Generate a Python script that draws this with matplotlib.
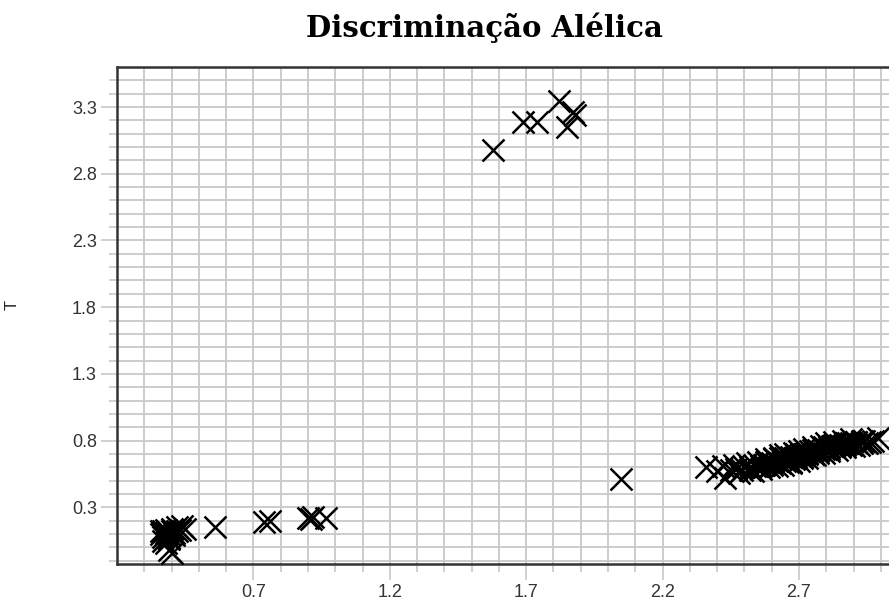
import matplotlib
matplotlib.use("Agg")
import matplotlib.pyplot as plt
from matplotlib.ticker import FixedLocator, NullFormatter

# ---- data ----
low_x = [0.36, 0.37, 0.37, 0.38, 0.38, 0.39, 0.39, 0.40, 0.40, 0.41, 0.42, 0.43,
         0.44, 0.45, 0.39, 0.40, 0.38, 0.37, 0.41, 0.36, 0.38, 0.39, 0.42,
         0.56, 0.74, 0.76, 0.90, 0.91, 0.92, 0.965]
low_y = [0.10, 0.12, 0.08, 0.11, 0.13, 0.10, 0.07, 0.12, 0.14, 0.11, 0.15, 0.13,
         0.16, 0.14, -0.02, -0.04, 0.03, 0.05, 0.09, 0.12, 0.10, 0.06, 0.12,
         0.15, 0.19, 0.20, 0.22, 0.21, 0.23, 0.22]

top_x = [1.58, 1.69, 1.74, 1.82, 1.87, 1.88, 1.85]
top_y = [2.98, 3.19, 3.19, 3.345, 3.26, 3.24, 3.15]

mid_x = [2.046]
mid_y = [0.515]

high_x = [2.36, 2.40, 2.42, 2.43, 2.45, 2.46, 2.48, 2.50, 2.51, 2.52, 2.54, 2.55,
          2.56, 2.57, 2.58, 2.59, 2.60, 2.61, 2.62, 2.62, 2.63, 2.64, 2.64, 2.65,
          2.66, 2.66, 2.67, 2.68, 2.68, 2.69, 2.70, 2.70, 2.71, 2.72, 2.72, 2.73,
          2.74, 2.75, 2.76, 2.77, 2.78, 2.79, 2.80, 2.80, 2.81, 2.82, 2.83, 2.84,
          2.85, 2.86, 2.87, 2.88, 2.89, 2.90, 2.91, 2.92, 2.93, 2.95, 2.97, 2.99,
          2.63, 2.67, 2.71, 2.75, 2.79, 2.83, 2.87, 2.58, 2.53, 2.47,
          2.61, 2.63, 2.65, 2.67, 2.69, 2.71, 2.73, 2.75, 2.77, 2.79, 2.81, 2.83,
          2.85, 2.87, 2.89, 2.91, 2.93, 2.94, 2.96, 2.65, 2.69, 2.73, 2.77, 2.81,
          2.85, 2.89, 2.60, 2.56, 2.52, 2.49]
high_y = [0.60, 0.57, 0.61, 0.52, 0.58, 0.62, 0.56, 0.60, 0.63, 0.58, 0.61, 0.64,
          0.59, 0.62, 0.66, 0.60, 0.63, 0.67, 0.61, 0.65, 0.69, 0.62, 0.66, 0.70,
          0.64, 0.68, 0.63, 0.71, 0.66, 0.69, 0.65, 0.72, 0.68, 0.70, 0.74, 0.67,
          0.72, 0.75, 0.69, 0.73, 0.76, 0.71, 0.74, 0.78, 0.72, 0.76, 0.79, 0.73,
          0.77, 0.80, 0.75, 0.78, 0.81, 0.76, 0.79, 0.77, 0.80, 0.78, 0.80, 0.82,
          0.63, 0.64, 0.67, 0.70, 0.74, 0.75, 0.77, 0.64, 0.57, 0.59,
          0.66, 0.67, 0.65, 0.68, 0.70, 0.69, 0.71, 0.73, 0.72, 0.75, 0.75, 0.77,
          0.75, 0.78, 0.78, 0.79, 0.78, 0.80, 0.79, 0.67, 0.68, 0.70, 0.71, 0.74,
          0.76, 0.77, 0.62, 0.61, 0.60, 0.58]

x_major = [0.7, 1.2, 1.7, 2.2, 2.7]
y_major = [0.3, 0.8, 1.3, 1.8, 2.3, 2.8, 3.3]

title = "Discriminação Alélica"
ylabel = "T"

# ---- figure ----
W, H = 889, 604
fig = plt.figure(figsize=(W / 100, H / 100), dpi=100)
left, right, top, bottom = 117, 889, 67, 564
ax = fig.add_axes([left / W, 1 - bottom / H, (right - left) / W, (bottom - top) / H])

grid_c = "#c8c8c8"
spine_c = "#333333"

xs = low_x + top_x + mid_x + high_x
ys = low_y + top_y + mid_y + high_y
ax.plot(xs, ys, linestyle="none", marker="x", markersize=16, markeredgewidth=1.8,
        color="black", zorder=3, clip_on=False)

ax.set_xlim(0.2, 3.03)
ax.set_ylim(-0.125, 3.6)

ax.xaxis.set_major_locator(FixedLocator(x_major))
ax.yaxis.set_major_locator(FixedLocator(y_major))
ax.xaxis.set_minor_locator(FixedLocator([round(0.2 + 0.1 * i, 1) for i in range(1, 29)]))
ax.yaxis.set_minor_locator(FixedLocator([round(-0.1 + 0.1 * i, 1) for i in range(0, 37)]))
ax.xaxis.set_minor_formatter(NullFormatter())
ax.yaxis.set_minor_formatter(NullFormatter())

ax.grid(True, which="both", color=grid_c, linewidth=1.3, zorder=0)
ax.set_axisbelow(True)

ax.tick_params(which="major", length=11.5, width=1.2, color=grid_c,
               labelsize=13, labelcolor="#333333", pad=3)
ax.tick_params(which="minor", length=5.8, width=1.2, color=grid_c)
for lab in ax.get_xticklabels() + ax.get_yticklabels():
    lab.set_fontfamily("Liberation Sans")

for s in ["left", "bottom", "top"]:
    ax.spines[s].set_color(spine_c)
    ax.spines[s].set_linewidth(1.8)
ax.spines["right"].set_visible(False)

fig.text(12 / W, 1 - 305 / H, ylabel, rotation=90, ha="center", va="center",
         fontsize=12, color="#222222", family="Liberation Sans")

fig.text(484 / W, 1 - 37 / H, title, ha="center", va="baseline",
         fontsize=21, fontweight="bold", family="DejaVu Serif", color="black")

fig.savefig("out.png", dpi=100)
